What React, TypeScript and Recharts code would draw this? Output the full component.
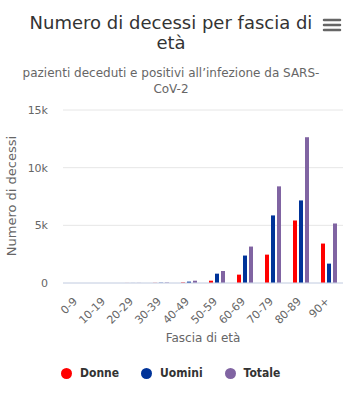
import { BarChart, Bar, XAxis, YAxis, CartesianGrid } from "recharts";

const ageBands = ["0-9", "10-19", "20-29", "30-39", "40-49", "50-59", "60-69", "70-79", "80-89", "90+"];
const donne = [0, 0, 5, 15, 50, 200, 725, 2460, 5420, 3420];
const uomini = [0, 0, 5, 30, 120, 810, 2380, 5860, 7160, 1680];
const totale = [0, 0, 10, 45, 200, 1040, 3160, 8380, 12640, 5160];
const yTicks = [0, 5000, 10000, 15000];

const legendItems = [
  { name: "Donne", color: "#ff0000" },
  { name: "Uomini", color: "#003399" },
  { name: "Totale", color: "#8064a2" },
];

const data = ageBands.map((band, i) => ({
  band,
  Donne: donne[i],
  Uomini: uomini[i],
  Totale: totale[i],
}));

const FONT = '"DejaVu Sans", Verdana, sans-serif';

const AgeTick = (props: any) => {
  const { x, y, payload } = props;
  const ax = x + 1;
  const ay = y + 11;
  return (
    <text
      x={ax}
      y={ay}
      transform={`rotate(-45, ${ax}, ${ay})`}
      textAnchor="end"
      fill="#666666"
      fontSize={11}
      fontFamily={FONT}
    >
      {payload.value}
    </text>
  );
};

const YTitle = () => (
  <text
    x={16}
    y={196}
    transform="rotate(-90, 16, 196)"
    textAnchor="middle"
    fill="#666666"
    fontSize={13}
    fontFamily={FONT}
  >
    Numero di decessi
  </text>
);

export default function App() {
  return (
    <div
      style={{
        position: "absolute",
        left: 0,
        top: 0,
        width: 358,
        height: 393,
        background: "#ffffff",
        fontFamily: FONT,
        overflow: "hidden",
      }}
    >
      <div
        style={{
          position: "absolute",
          left: 19,
          top: 13,
          width: 304,
          textAlign: "center",
          fontSize: 18,
          lineHeight: "20px",
          color: "#333333",
        }}
      >
        Numero di decessi per fascia di
        <br />
        età
      </div>
      <svg
        width={20}
        height={16}
        style={{ position: "absolute", left: 322, top: 17 }}
      >
        {[3, 8, 13].map((yy) => (
          <line
            key={yy}
            x1={2}
            x2={18}
            y1={yy}
            y2={yy}
            stroke="#666666"
            strokeWidth={2.5}
            strokeLinecap="round"
          />
        ))}
      </svg>
      <div
        style={{
          position: "absolute",
          left: 19,
          top: 65,
          width: 304,
          textAlign: "center",
          fontSize: 12,
          lineHeight: "16px",
          color: "#666666",
        }}
      >
        pazienti deceduti e positivi all’infezione da SARS-
        <br />
        CoV-2
      </div>

      <div style={{ position: "absolute", left: 0, top: 0 }}>
        <BarChart
          width={358}
          height={393}
          data={data}
          margin={{ top: 110, right: 15, bottom: 51, left: 0 }}
          barSize={4}
          barGap={2}
        >
          <CartesianGrid vertical={false} stroke="#e6e6e6" />
          <XAxis
            dataKey="band"
            interval={0}
            height={59}
            tick={<AgeTick />}
            tickLine={false}
            axisLine={{ stroke: "#ccd6eb" }}
            label={{
              value: "Fascia di età",
              position: "insideBottom",
              offset: 0,
              fill: "#666666",
              fontSize: 12,
              fontFamily: FONT,
            }}
          />
          <YAxis
            width={63}
            domain={[0, 15000]}
            ticks={yTicks}
            axisLine={false}
            tickLine={false}
            tickSize={0}
            tickMargin={15}
            tick={{ fill: "#666666", fontSize: 11, fontFamily: FONT }}
            tickFormatter={(v: number) => (v === 0 ? "0" : `${v / 1000}k`)}
            label={<YTitle />}
          />
          <Bar dataKey="Donne" fill="#ff0000" isAnimationActive={false} />
          <Bar dataKey="Uomini" fill="#003399" isAnimationActive={false} />
          <Bar dataKey="Totale" fill="#8064a2" isAnimationActive={false} />
        </BarChart>
      </div>

      <div
        style={{
          position: "absolute",
          left: 61,
          top: 365,
          height: 16,
          display: "flex",
          alignItems: "center",
          gap: 22,
          fontFamily: '"DejaVu Sans Condensed", "DejaVu Sans", sans-serif',
          fontSize: 12,
          fontWeight: "bold",
          color: "#333333",
        }}
      >
        {legendItems.map((item) => (
          <div key={item.name} style={{ display: "flex", alignItems: "center" }}>
            <span
              style={{
                display: "inline-block",
                width: 11,
                height: 11,
                borderRadius: 6,
                background: item.color,
                marginRight: 8,
              }}
            />
            {item.name}
          </div>
        ))}
      </div>
    </div>
  );
}
